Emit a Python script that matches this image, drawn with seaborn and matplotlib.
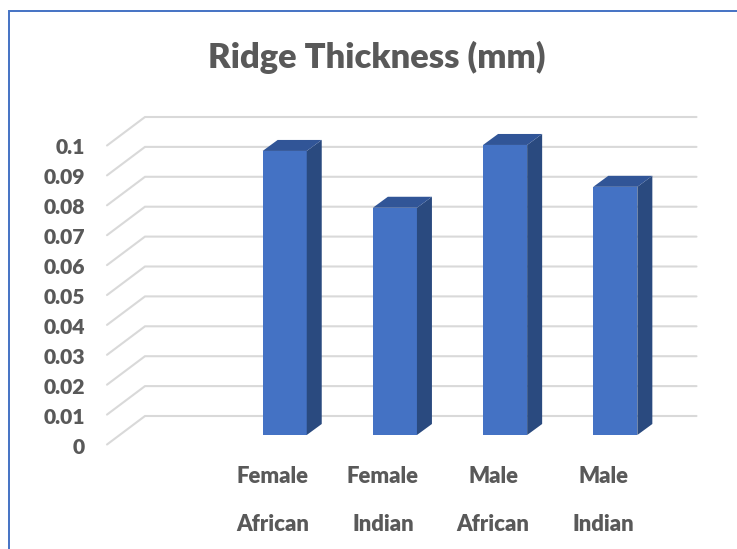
import matplotlib
matplotlib.use("Agg")
import matplotlib.pyplot as plt
from matplotlib.lines import Line2D
from matplotlib.patches import Polygon
import numpy as np
import pandas as pd
import seaborn as sns

categories = ["Female\nAfrican", "Female\nIndian", "Male\nAfrican", "Male\nIndian"]
thickness = [0.095, 0.076, 0.097, 0.083]
y_ticks = [0, 0.01, 0.02, 0.03, 0.04, 0.05, 0.06, 0.07, 0.08, 0.09, 0.1]
y_labels = ["0", "0.01", "0.02", "0.03", "0.04", "0.05", "0.06", "0.07", "0.08", "0.09", "0.1"]

W, H = 737, 549
sns.set_theme(style="white")
plt.rcParams["font.family"] = ["Lato", "DejaVu Sans"]
plt.rcParams["font.weight"] = "heavy"

# pixel scale of the data, the fake 3d depth is worked out from these
px_x = 110.2
px_y = 2990.0
x0_px = 284.7
y0_px = 435.0

fig = plt.figure(figsize=(W / 100, H / 100), dpi=100, facecolor="white")
left, right, top, bottom = 90, 725, 100, 460
ax = fig.add_axes([left / W, 1 - bottom / H, (right - left) / W, (bottom - top) / H])

df = pd.DataFrame({"group": categories, "thickness": thickness})
sns.barplot(data=df, x="group", y="thickness", color="#4472C4", saturation=1,
            width=0.4, ax=ax, zorder=3, linewidth=0)

ax.set_xlim((left - x0_px) / px_x, (right - x0_px) / px_x)
ax.set_ylim((y0_px - bottom) / px_y, (y0_px - top) / px_y)

# side and top faces of each bar
dx = 15 / px_x
dy = 11 / px_y
for bar in list(ax.patches):
    x1 = bar.get_x()
    x2 = x1 + bar.get_width()
    h = bar.get_height()
    ax.add_patch(Polygon([(x2, 0), (x2 + dx, dy), (x2 + dx, h + dy), (x2, h)],
                         closed=True, fc="#2A4A7F", ec="none", zorder=3))
    ax.add_patch(Polygon([(x1, h), (x1 + dx, h + dy), (x2 + dx, h + dy), (x2, h)],
                         closed=True, fc="#315597", ec="none", zorder=3))

# gridlines: back wall and the slanted side wall
front_x = (107 - x0_px) / px_x
back_x = (145 - x0_px) / px_x
end_x = (696.5 - x0_px) / px_x
front_dy = -9.5 / px_y
back_dy = 19 / px_y
for t in y_ticks:
    ax.plot([front_x, back_x, end_x], [t + front_dy, t + back_dy, t + back_dy],
            color="#D9D9D9", lw=1.5, zorder=1, solid_joinstyle="miter")

ax.set_yticks(np.array(y_ticks) + front_dy - 1 / px_y, y_labels)
ax.set_xticks(np.arange(len(categories)) - 12 / px_x, categories)
ax.tick_params(axis="y", length=0, pad=3.5, labelsize=15.2, labelcolor="#595959")
ax.tick_params(axis="x", length=0, pad=4.5, labelsize=15.9, labelcolor="#595959")
for lab in ax.get_xticklabels():
    lab.set_linespacing(2.55)
ax.set_xlabel("")
ax.set_ylabel("")
sns.despine(ax=ax, left=True, bottom=True)

fig.text(376.5 / W, 1 - 57 / H, "Ridge Thickness (mm)", ha="center", va="center",
         fontsize=24.8, fontweight="heavy", color="#595959")

# chart frame, only the top and left edges are in the picture
frame_x = 9 / W
frame_y = 1 - 11 / H
fig.add_artist(Line2D([frame_x, frame_x, 1], [0, frame_y, frame_y], transform=fig.transFigure,
                      color="#4472C4", lw=1.4, solid_joinstyle="miter"))

fig.savefig("out.png", dpi=100)
